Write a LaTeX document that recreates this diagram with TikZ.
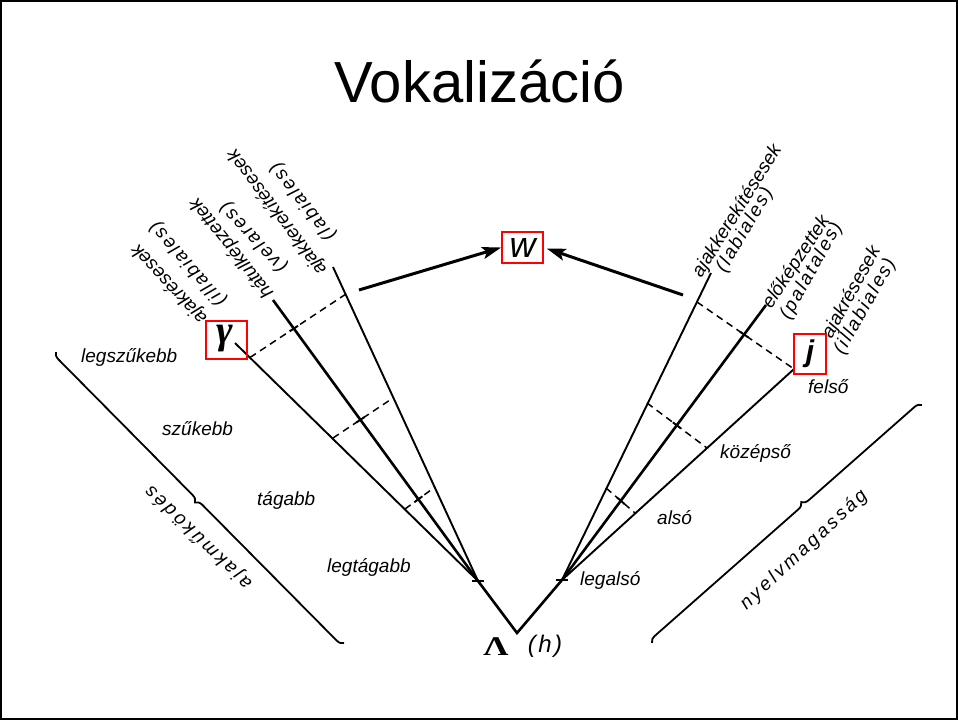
\documentclass[tikz,border=0pt]{standalone}
\usepackage{fontspec}
\usepackage{graphicx}
\setmainfont{Liberation Sans}
\newfontfamily\spacedA[LetterSpace=10]{Liberation Sans}
\newfontfamily\spacedB[LetterSpace=15]{Liberation Sans}
\newfontfamily\greekserif{Liberation Serif}
\usetikzlibrary{arrows.meta,decorations.pathreplacing,calc}
\begin{document}
\begin{tikzpicture}[x=1pt,y=-1pt,
  thinln/.style={line width=1.9pt},
  thickln/.style={line width=2.6pt},
  dashln/.style={line width=1.5pt, dash pattern=on 7pt off 5pt},
  lbl/.style={font=\fontsize{19}{21}\selectfont\itshape, inner sep=0pt, anchor=west},
  lbls/.style={font=\spacedA\fontsize{19}{21}\selectfont\itshape, inner sep=0pt, anchor=west},
  hlbl/.style={font=\fontsize{19}{21}\selectfont\itshape, inner sep=0pt, anchor=base west},
  brlbl/.style={font=\spacedB\fontsize{19}{21}\selectfont\itshape, inner sep=0pt},
  redbox/.style={draw=red, line width=1.6pt, inner sep=0pt},
  arr/.style={line width=3pt, -{Stealth[length=19pt,width=12pt,inset=4pt]}},
  brc/.style={line width=1.8pt, decorate, decoration={brace, amplitude=7pt}}
]
\useasboundingbox (0,0) rectangle (958,720);
\draw[line width=2pt] (1,1) rectangle (957,719);

% title
\node[font=\fontsize{58}{60}\selectfont, inner sep=0pt, anchor=base] (title) at (479.5,102) {Vokalizáció};

% main points
\coordinate (V) at (517,633);
\coordinate (L) at (478,581);
\coordinate (R) at (562,580);
\coordinate (Lg) at (235,343);
\coordinate (Lv) at (273,300);
\coordinate (Ll) at (333,267);
\coordinate (Rl) at (711,273);
\coordinate (Rp) at (766,305);
\coordinate (Ri) at (794,369);

% fan lines
\draw[thickln] (L) -- (V) -- (R);
\draw[thinln] (L) -- (Lg);
\draw[thickln] (L) -- (Lv);
\draw[thinln] (L) -- (Ll);
\draw[thinln] (R) -- (Rl);
\draw[thickln] (R) -- (Rp);
\draw[thinln] (R) -- (Ri);
\draw[thinln] ($(L)+(-6,0)$) -- ($(L)+(6,0)$);
\draw[thinln] ($(R)+(-6,0)$) -- ($(R)+(6,0)$);

% dashed cross lines left
\coordinate (d1a) at (250,357.5);
\coordinate (d1b) at (346,294);
\coordinate (d2a) at (333,438);
\coordinate (d2b) at (393,398);
\coordinate (d3a) at (405,509);
\coordinate (d3b) at (435,487);
\draw[dashln] (d1a) -- (d1b);
\draw[dashln] (d2a) -- (d2b);
\draw[dashln] (d3a) -- (d3b);
% dashed cross lines right
\coordinate (e1a) at (697,302);
\coordinate (e2a) at (647,403);
\coordinate (e2b) at (707,448);
\coordinate (e3a) at (606,488);
\coordinate (e3b) at (635,513);
\draw[dashln] (e1a) -- (Ri);
\draw[dashln] (e2a) -- (e2b);
\draw[dashln] (e3a) -- (e3b);

% crossing ticks on middle lines
\coordinate (x1) at (intersection of L--Lv and d1a--d1b);
\coordinate (x2) at (intersection of L--Lv and d2a--d2b);
\coordinate (x3) at (intersection of L--Lv and d3a--d3b);
\coordinate (y1) at (intersection of R--Rp and e1a--Ri);
\coordinate (y2) at (intersection of R--Rp and e2a--e2b);
\coordinate (y3) at (intersection of R--Rp and e3a--e3b);
\draw[thinln] ($(x1)!5pt!(d1a)$) -- ($(x1)!5pt!(d1b)$);
\draw[thinln] ($(x2)!5pt!(d2a)$) -- ($(x2)!5pt!(d2b)$);
\draw[thinln] ($(x3)!5pt!(d3a)$) -- ($(x3)!5pt!(d3b)$);
\draw[thinln] ($(y1)!5pt!(e1a)$) -- ($(y1)!5pt!(Ri)$);
\draw[thinln] ($(y2)!5pt!(e2a)$) -- ($(y2)!5pt!(e2b)$);
\draw[thinln] ($(y3)!5pt!(e3a)$) -- ($(y3)!5pt!(e3b)$);

% boxed symbols
\node[redbox, minimum width=41pt, minimum height=38pt] (g) at (226.5,340) {};
\node[inner sep=0pt, font=\greekserif\fontsize{40}{40}\selectfont\bfseries\itshape] (gsym) at (225,339) {γ};
\node[redbox, minimum width=41pt, minimum height=31pt] (w) at (522.5,247.5) {\fontsize{36}{36}\selectfont\itshape w};
\node[redbox, minimum width=32pt, minimum height=40pt] (j) at (810,354) {\fontsize{30}{30}\selectfont\bfseries\itshape j};

% arrows
\coordinate (la) at (359,290);
\coordinate (ra) at (683,295);
\draw[arr] (la) -- (w.west);
\draw[arr, shorten >=3pt] (ra) -- (w.east);

% bottom symbol
\node[inner sep=0pt, font=\greekserif\fontsize{27}{27}\selectfont\bfseries] (lam) at (496,647) {\scalebox{1.3}[1]{Λ}};
\node[inner sep=0pt, font=\spacedA\fontsize{24}{24}\selectfont\itshape] (hh) at (545,646) {(h)};

% rotated labels left
\node[lbl, rotate=133] (a1) at (204,321) {ajakrésesek};
\node[lbls, rotate=131] (a2) at (223,304) {(illabiales)};
\node[lbl, rotate=128.5] (b1) at (270,296) {hátulképzettek};
\node[lbls, rotate=133] (b2) at (284,270) {(velares)};
\node[lbl, rotate=127] (c1) at (323,273) {ajakkerekítésesek};
\node[lbls, rotate=128] (c2) at (332,239) {(labiales)};

% rotated labels right
\node[lbl, rotate=58] (r1a) at (697,276) {ajakkerekítésesek};
\node[lbls, rotate=59.5] (r1b) at (721,271) {(labiales)};
\node[lbl, rotate=56.5] (r2a) at (767,307) {előképzettek};
\node[lbls, rotate=60.5] (r2b) at (785,318) {(palatales)};
\node[lbl, rotate=61] (r3a) at (827,337) {ajakrésesek};
\node[lbls, rotate=60.5] (r3b) at (839,353) {(illabiales)};

% horizontal labels
\node[hlbl] (h1) at (81,362) {legszűkebb};
\node[hlbl] (h2) at (162,435) {szűkebb};
\node[hlbl] (h3) at (257,505) {tágabb};
\node[hlbl] (h4) at (327,572) {legtágabb};
\node[hlbl] (k1) at (808,393) {felső};
\node[hlbl] (k2) at (720,458) {középső};
\node[hlbl] (k3) at (657,524) {alsó};
\node[hlbl] (k4) at (580,585) {legalsó};

% braces
\coordinate (b1s) at (344,643);
\coordinate (b1e) at (56,352);
\draw[brc, decoration={aspect=0.5}] (b1s) -- (b1e);
\node[brlbl, rotate=136] (ajm) at (198.5,537) {ajakműködés};
\coordinate (b2s) at (652,643);
\coordinate (b2e) at (922,405);
\draw[brc, decoration={aspect=0.57}] (b2s) -- (b2e);
\node[brlbl, rotate=43] (nym) at (804,550) {nyelvmagasság};
\end{tikzpicture}
\end{document}
